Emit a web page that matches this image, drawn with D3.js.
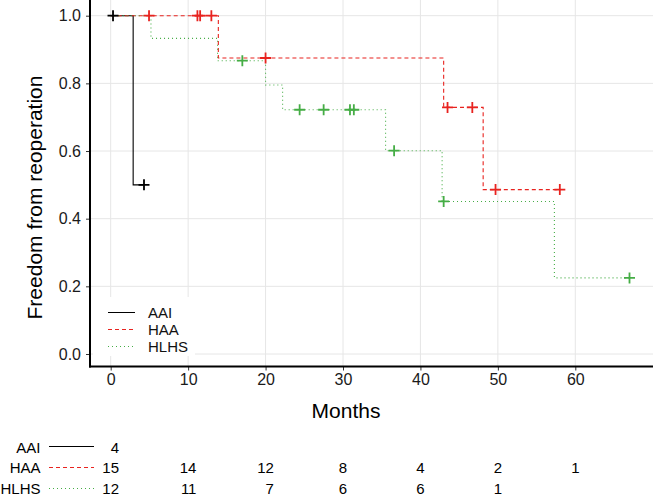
<!DOCTYPE html>
<html>
<head>
<meta charset="utf-8">
<script src="https://cdn.jsdelivr.net/npm/d3@7"></script>
<style>
  html, body { margin: 0; padding: 0; background: #fff; }
  svg { display: block; font-family: "Liberation Sans", Arial, Helvetica, sans-serif; }
</style>
</head>
<body>
<svg id="chart" width="653" height="496"></svg>
<script>
// ---- Data ----
const groups = ["AAI", "HAA", "HLHS"];

const aaiStepTimes = [0, 2.9, 4.3];
const aaiStepSurv  = [1.0, 0.5, 0.5];
const aaiCensorTimes = [0.3, 4.3];
const aaiCensorSurv  = [1.0, 0.5];

const haaStepTimes = [0, 13.9, 43.0, 48.1, 58.0];
const haaStepSurv  = [1.0, 0.875, 0.729, 0.486, 0.486];
const haaCensorTimes = [4.95, 11.2, 11.55, 13.0, 20.0, 43.5, 46.7, 49.7, 58.0];
const haaCensorSurv  = [1.0, 1.0, 1.0, 1.0, 0.875, 0.729, 0.729, 0.486, 0.486];

const hlhsStepTimes = [0, 5.2, 13.8, 20.0, 22.2, 35.5, 42.8, 57.3, 67.0];
const hlhsStepSurv  = [1.0, 0.933, 0.867, 0.795, 0.722, 0.601, 0.451, 0.225, 0.225];
const hlhsCensorTimes = [17.0, 24.4, 27.5, 30.9, 31.4, 36.6, 43.0, 67.0];
const hlhsCensorSurv  = [0.867, 0.722, 0.722, 0.722, 0.722, 0.601, 0.451, 0.225];

const xTicks = [0, 10, 20, 30, 40, 50, 60];
const yTicks = [0.0, 0.2, 0.4, 0.6, 0.8, 1.0];

const riskTimes = [0, 10, 20, 30, 40, 50, 60];
const riskAAI  = [4];
const riskHAA  = [15, 14, 12, 8, 4, 2, 1];
const riskHLHS = [12, 11, 7, 6, 6, 1];

// ---- Styles ----
const colors = { AAI: "#000000", HAA: "#e8231f", HLHS: "#45ad45" };
const dashes = { AAI: null, HAA: "4,3", HLHS: "1,3" };

const series = [
  { name: "AAI",  st: aaiStepTimes,  ss: aaiStepSurv,  ct: aaiCensorTimes,  cs: aaiCensorSurv },
  { name: "HAA",  st: haaStepTimes,  ss: haaStepSurv,  ct: haaCensorTimes,  cs: haaCensorSurv },
  { name: "HLHS", st: hlhsStepTimes, ss: hlhsStepSurv, ct: hlhsCensorTimes, cs: hlhsCensorSurv }
];

const svg = d3.select("#chart");

// panel bounds
const panelLeft = 90, panelRight = 653, panelTop = 0, panelBottom = 366.5;

const x = d3.scaleLinear().domain([0, 60]).range([110.7, 575.3]);
const y = d3.scaleLinear().domain([0, 1]).range([354, 15.7]);

// gridlines
const grid = svg.append("g");
grid.selectAll("line.v").data(xTicks).join("line")
  .attr("x1", d => x(d)).attr("x2", d => x(d))
  .attr("y1", panelTop).attr("y2", panelBottom)
  .attr("stroke", "#e6e6e6").attr("stroke-width", 1);
grid.selectAll("line.h").data(yTicks).join("line")
  .attr("x1", panelLeft).attr("x2", panelRight)
  .attr("y1", d => y(d)).attr("y2", d => y(d))
  .attr("stroke", "#e6e6e6").attr("stroke-width", 1);

// axes
const xAxis = d3.axisBottom(x).tickValues(xTicks).tickFormat(d3.format("d")).tickSize(4).tickPadding(3);
const gx = svg.append("g").attr("transform", `translate(0,${panelBottom})`).call(xAxis);
gx.select(".domain").remove();
gx.selectAll(".tick line").attr("stroke", "#333");
gx.selectAll(".tick text").attr("font-size", 16).attr("fill", "#1a1a1a")
  .attr("font-family", "Liberation Sans, Arial, sans-serif");

const yAxis = d3.axisLeft(y).tickValues(yTicks).tickFormat(d3.format(".1f")).tickSize(4).tickPadding(5);
const gy = svg.append("g").attr("transform", `translate(${panelLeft},0)`).call(yAxis);
gy.select(".domain").remove();
gy.selectAll(".tick line").attr("stroke", "#333");
gy.selectAll(".tick text").attr("font-size", 16).attr("fill", "#1a1a1a")
  .attr("font-family", "Liberation Sans, Arial, sans-serif");

// axis lines
svg.append("line").attr("x1", panelLeft).attr("x2", panelLeft)
  .attr("y1", panelTop).attr("y2", panelBottom + 1)
  .attr("stroke", "#000").attr("stroke-width", 2);
svg.append("line").attr("x1", panelLeft - 1).attr("x2", panelRight)
  .attr("y1", panelBottom).attr("y2", panelBottom)
  .attr("stroke", "#000").attr("stroke-width", 2);

// curves
const line = d3.line().x(d => x(d[0])).y(d => y(d[1])).curve(d3.curveStepAfter);
series.forEach(s => {
  const pts = s.st.map((t, i) => [t, s.ss[i]]);
  svg.append("path").datum(pts)
    .attr("d", line)
    .attr("fill", "none")
    .attr("stroke", colors[s.name])
    .attr("stroke-width", 1.1)
    .attr("stroke-dasharray", dashes[s.name]);
});
// censor marks
series.forEach(s => {
  const pts = s.ct.map((t, i) => [t, s.cs[i]]);
  svg.append("g").selectAll("path").data(pts).join("path")
    .attr("d", d => `M${x(d[0]) - 5.5},${y(d[1])}h11M${x(d[0])},${y(d[1]) - 5.5}v11`)
    .attr("stroke", colors[s.name])
    .attr("stroke-width", 1.8)
    .attr("fill", "none");
});

// legend inside plot
const leg = svg.append("g");
leg.append("rect").attr("x", 93).attr("y", 297).attr("width", 102).attr("height", 59).attr("fill", "#fff");
groups.forEach((g, i) => {
  const yy = 312.5 + i * 17;
  leg.append("line").attr("x1", 108).attr("x2", 135).attr("y1", yy).attr("y2", yy)
    .attr("stroke", colors[g]).attr("stroke-width", 1)
    .attr("stroke-dasharray", dashes[g]);
  leg.append("text").attr("x", 148).attr("y", yy).attr("dy", "0.36em")
    .attr("font-size", 15).attr("fill", "#111").text(g);
});

// axis titles
svg.append("text").attr("x", 346).attr("y", 418).attr("text-anchor", "middle")
  .attr("font-size", 21).attr("fill", "#000").text("Months");
svg.append("text").attr("transform", "translate(42,197.5) rotate(-90)")
  .attr("text-anchor", "middle").attr("font-size", 21).attr("fill", "#000")
  .text("Freedom from reoperation");

// risk table
const riskRows = [
  { name: "AAI", vals: riskAAI, yy: 452.5, ky: 446.5 },
  { name: "HAA", vals: riskHAA, yy: 473, ky: 467.5 },
  { name: "HLHS", vals: riskHLHS, yy: 493.5, ky: 488.5 }
];
const tFont = 15, digitW = 0.556 * tFont;
const colMax = riskTimes.map((t, j) => d3.max(riskRows, r => r.vals[j] != null ? String(r.vals[j]).length : 0));
const tbl = svg.append("g");
riskRows.forEach(r => {
  tbl.append("text").attr("x", 40.5).attr("y", r.yy).attr("text-anchor", "end")
    .attr("font-size", tFont).attr("fill", "#000").text(r.name);
  tbl.append("line").attr("x1", 49).attr("x2", 94).attr("y1", r.ky).attr("y2", r.ky)
    .attr("stroke", colors[r.name]).attr("stroke-width", 1)
    .attr("stroke-dasharray", dashes[r.name]);
  tbl.selectAll(null).data(r.vals.map((v, j) => ({ v, j }))).join("text")
    .attr("x", d => x(riskTimes[d.j]) + colMax[d.j] * digitW / 2)
    .attr("y", r.yy)
    .attr("text-anchor", "end")
    .attr("font-size", tFont).attr("fill", "#000")
    .text(d => d.v);
});
</script>
</body>
</html>
